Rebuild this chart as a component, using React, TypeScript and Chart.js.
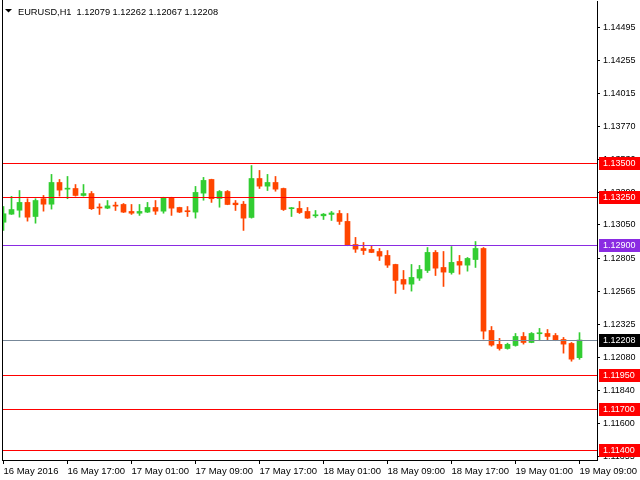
import React, { useEffect, useRef } from "react";
import { Chart, registerables } from "chart.js";

Chart.register(...registerables);

const SYMBOL = "EURUSD,H1";

const TIME_LABELS = [
  "16 May 2016", "16 May 17:00", "17 May 01:00", "17 May 09:00", "17 May 17:00",
  "18 May 01:00", "18 May 09:00", "18 May 17:00", "19 May 01:00", "19 May 09:00",
];
const TIME_TICK_BARS = [0, 8, 16, 24, 32, 40, 48, 56, 64, 72];

const OPEN = [
  1.13070, 1.13129, 1.13158, 1.13215, 1.13112, 1.13242, 1.13202, 1.13361, 1.13312, 1.13317,
  1.13266, 1.13280, 1.13178, 1.13173, 1.13192, 1.13200, 1.13149, 1.13136, 1.13144, 1.13178,
  1.13151, 1.13251, 1.13178, 1.13151, 1.13144, 1.13283, 1.13383, 1.13244, 1.13295, 1.13210,
  1.13202, 1.13105, 1.13390, 1.13334, 1.13361, 1.13317, 1.13169, 1.13171, 1.13149, 1.13117,
  1.13117, 1.13127, 1.13134, 1.13076, 1.12907, 1.12878, 1.12871, 1.12856, 1.12827, 1.12761,
  1.12651, 1.12617, 1.12661, 1.12717, 1.12849, 1.12739, 1.12702, 1.12783, 1.12756, 1.12797,
  1.12878, 1.12278, 1.12176, 1.12146, 1.12168, 1.12234, 1.12190, 1.12254, 1.12256, 1.12241,
  1.12212, 1.12183, 1.12079,
];
const HIGH = [
  1.13185, 1.13259, 1.13302, 1.13242, 1.13242, 1.13266, 1.13420, 1.13383, 1.13405, 1.13346,
  1.13346, 1.13295, 1.13205, 1.13229, 1.13217, 1.13207, 1.13200, 1.13200, 1.13215, 1.13229,
  1.13253, 1.13253, 1.13180, 1.13185, 1.13332, 1.13398, 1.13385, 1.13302, 1.13302, 1.13229,
  1.13222, 1.13485, 1.13449, 1.13420, 1.13405, 1.13320, 1.13178, 1.13222, 1.13178, 1.13156,
  1.13134, 1.13149, 1.13156, 1.13134, 1.12959, 1.12922, 1.12900, 1.12878, 1.12863, 1.12763,
  1.12717, 1.12761, 1.12754, 1.12885, 1.12863, 1.12856, 1.12892, 1.12827, 1.12812, 1.12929,
  1.12885, 1.12307, 1.12220, 1.12185, 1.12256, 1.12263, 1.12263, 1.12293, 1.12285, 1.12256,
  1.12227, 1.12190, 1.12262,
];
const LOW = [
  1.13010, 1.13127, 1.13107, 1.13078, 1.13063, 1.13151, 1.13166, 1.13261, 1.13242, 1.13261,
  1.13261, 1.13163, 1.13127, 1.13169, 1.13156, 1.13141, 1.13127, 1.13120, 1.13141, 1.13127,
  1.13136, 1.13120, 1.13141, 1.13112, 1.13100, 1.13231, 1.13215, 1.13180, 1.13198, 1.13156,
  1.13010, 1.13100, 1.13317, 1.13302, 1.13297, 1.13156, 1.13112, 1.13134, 1.13098, 1.13105,
  1.13090, 1.13083, 1.13054, 1.12898, 1.12849, 1.12834, 1.12847, 1.12790, 1.12739, 1.12549,
  1.12578, 1.12566, 1.12644, 1.12702, 1.12680, 1.12600, 1.12690, 1.12690, 1.12712, 1.12739,
  1.12215, 1.12163, 1.12134, 1.12141, 1.12163, 1.12178, 1.12188, 1.12203, 1.12205, 1.12203,
  1.12112, 1.12053, 1.12067,
];
const CLOSE = [
  1.13132, 1.13163, 1.13215, 1.13107, 1.13229, 1.13202, 1.13361, 1.13305, 1.13317, 1.13266,
  1.13280, 1.13169, 1.13174, 1.13190, 1.13188, 1.13144, 1.13136, 1.13149, 1.13178, 1.13151,
  1.13251, 1.13173, 1.13144, 1.13147, 1.13288, 1.13376, 1.13242, 1.13295, 1.13200, 1.13198,
  1.13100, 1.13390, 1.13334, 1.13361, 1.13312, 1.13163, 1.13173, 1.13141, 1.13100, 1.13122,
  1.13129, 1.13138, 1.13076, 1.12900, 1.12873, 1.12863, 1.12849, 1.12822, 1.12756, 1.12644,
  1.12617, 1.12666, 1.12724, 1.12849, 1.12734, 1.12705, 1.12776, 1.12756, 1.12805, 1.12878,
  1.12273, 1.12171, 1.12146, 1.12176, 1.12234, 1.12190, 1.12256, 1.12258, 1.12234, 1.12205,
  1.12178, 1.12068, 1.12208,
];

const PRICE_TICKS = [
  1.14495, 1.14255, 1.14015, 1.13770, 1.13530, 1.13290, 1.13050,
  1.12805, 1.12565, 1.12325, 1.12080, 1.11840, 1.11600, 1.11355,
];
const RED_LEVELS = [1.135, 1.1325, 1.1195, 1.117, 1.114];
const PURPLE_LEVELS = [1.129];

const Y_MIN = 1.1133;
const Y_MAX = 1.14689;
const X_MIN = -0.1875;
const X_MAX = 74.1875;

const BULL = "#32CD32";
const BEAR = "#FF4500";
const RED = "rgb(255,0,0)";
const PURPLE = "rgb(138,43,226)";
const BIDLINE = "rgb(119,136,153)";
const FONT = "'Liberation Sans', Arial, sans-serif";

export default function App() {
  const ref = useRef<HTMLCanvasElement>(null);

  useEffect(() => {
    if (!ref.current) return;
    const idx = OPEN.map((_, i) => i);
    const colors = idx.map((i) => (CLOSE[i] >= OPEN[i] ? BULL : BEAR));
    const bodies = idx.map((i) => ({ x: i, y: [OPEN[i], CLOSE[i]] }));
    const wicks = idx.map((i) => ({ x: i, y: [LOW[i], HIGH[i]] }));
    const last = OPEN.length - 1;
    const bid = CLOSE[last];

    const overlay = {
      id: "mt4overlay",
      afterDraw(chart: any) {
        const ctx: CanvasRenderingContext2D = chart.ctx;
        const a = chart.chartArea;
        const ys = chart.scales.y;
        ctx.save();
        ctx.globalAlpha = 1;
        ctx.globalCompositeOperation = "source-over";
        const rowOf = (p: number) => Math.round(ys.getPixelForValue(p) - 0.5);
        const hline = (p: number, color: string) => {
          const y = rowOf(p);
          ctx.fillStyle = color;
          ctx.fillRect(Math.round(a.left), y, Math.round(a.right - a.left), 1);
        };
        RED_LEVELS.forEach((p) => hline(p, RED));
        PURPLE_LEVELS.forEach((p) => hline(p, PURPLE));
        hline(bid, BIDLINE);

        // left frame
        ctx.fillStyle = "#000";
        ctx.fillRect(Math.round(a.left), 0, 1, Math.round(a.bottom) + 1);

        // price labels
        const box = (p: number, bg: string) => {
          const y = rowOf(p);
          ctx.fillStyle = bg;
          ctx.fillRect(Math.round(a.right) + 2, y - 6, chart.width - Math.round(a.right) - 2, 13);
          ctx.fillStyle = "#FFFFFF";
          ctx.font = `9px ${FONT}`;
          ctx.textBaseline = "middle";
          ctx.textAlign = "left";
          ctx.fillText(p.toFixed(5), a.right + 6, y + 1);
        };
        RED_LEVELS.forEach((p) => box(p, RED));
        PURPLE_LEVELS.forEach((p) => box(p, PURPLE));
        box(bid, "#000000");

        // title
        ctx.fillStyle = "#000";
        ctx.beginPath();
        ctx.moveTo(5, 9);
        ctx.lineTo(12, 9);
        ctx.lineTo(8.5, 12.5);
        ctx.closePath();
        ctx.fill();
        ctx.font = `9.25px ${FONT}`;
        ctx.textBaseline = "alphabetic";
        ctx.textAlign = "left";
        const title =
          `${SYMBOL}  ${OPEN[last].toFixed(5)} ${HIGH[last].toFixed(5)} ${LOW[last].toFixed(5)} ${CLOSE[last].toFixed(5)}`;
        ctx.fillText(title, 18, 15);
        ctx.restore();
      },
    };

    const chart = new Chart(ref.current, {
      type: "bar",
      data: {
        datasets: [
          {
            data: bodies as any,
            backgroundColor: colors,
            barThickness: 5,
            grouped: false,
            minBarLength: 1,
            borderWidth: 0,
            clip: 0,
          } as any,
          {
            data: wicks as any,
            backgroundColor: colors,
            barThickness: 1,
            grouped: false,
            borderWidth: 0,
            clip: 0,
          } as any,
        ],
      },
      options: {
        animation: false,
        responsive: true,
        maintainAspectRatio: false,
        events: [],
        layout: { padding: { left: 2, top: 1, right: 0, bottom: 0 } },
        plugins: { legend: { display: false }, tooltip: { enabled: false }, title: { display: false } },
        scales: {
          x: {
            type: "linear",
            min: X_MIN,
            max: X_MAX,
            offset: false,
            afterBuildTicks: (s: any) => {
              s.ticks = TIME_TICK_BARS.map((v) => ({ value: v }));
            },
            afterFit: (s: any) => {
              s.height = 20;
              s.paddingLeft = 0;
              s.paddingRight = 0;
            },
            ticks: {
              autoSkip: false,
              maxRotation: 0,
              minRotation: 0,
              align: "start",
              padding: 2,
              color: "#000",
              font: { family: FONT, size: 9.5 },
              callback: (v: any) => {
                const k = TIME_TICK_BARS.indexOf(Number(v));
                return k >= 0 ? TIME_LABELS[k] : "";
              },
            },
            grid: {
              display: true,
              offset: false,
              drawOnChartArea: false,
              drawTicks: true,
              tickLength: 4,
              color: "#000",
              lineWidth: 1,
            },
            border: { display: true, color: "#000", width: 1 },
          } as any,
          y: {
            type: "linear",
            position: "right",
            min: Y_MIN,
            max: Y_MAX,
            afterBuildTicks: (s: any) => {
              s.ticks = PRICE_TICKS.map((v) => ({ value: v }));
            },
            afterFit: (s: any) => {
              s.width = 43;
              s.paddingTop = 0;
              s.paddingBottom = 0;
            },
            ticks: {
              autoSkip: false,
              padding: 3,
              color: "#000",
              font: { family: FONT, size: 9 },
              callback: (v: any) => Number(v).toFixed(5),
            },
            grid: {
              display: true,
              drawOnChartArea: false,
              drawTicks: true,
              tickLength: 3,
              color: "#000",
              lineWidth: 1,
            },
            border: { display: true, color: "#000", width: 1 },
          } as any,
        },
      },
      plugins: [overlay],
    });
    return () => chart.destroy();
  }, []);

  return (
    <div style={{ position: "absolute", left: 0, top: 0, width: 640, height: 480, background: "#fff" }}>
      <canvas ref={ref} />
    </div>
  );
}
